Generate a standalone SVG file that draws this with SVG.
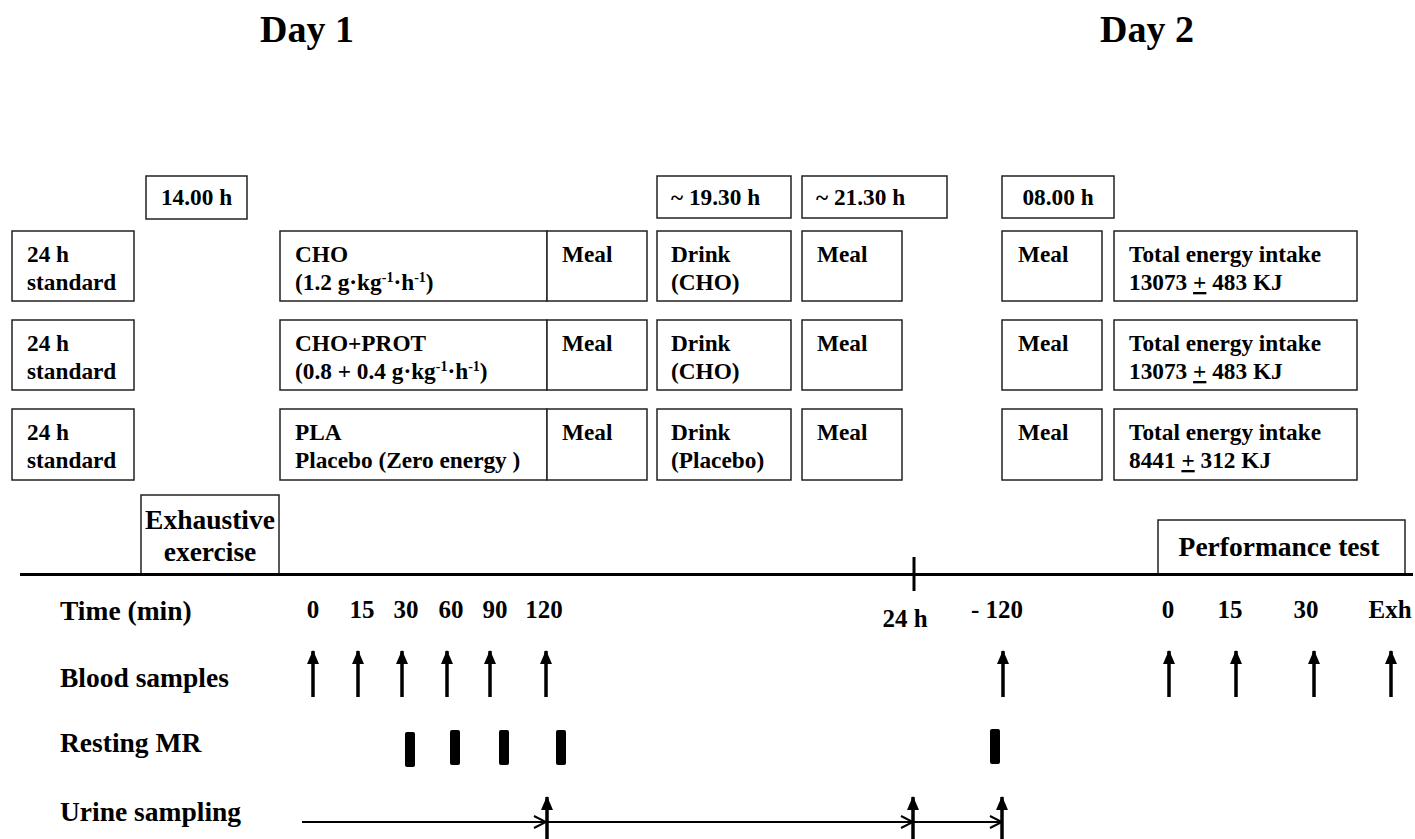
<svg xmlns="http://www.w3.org/2000/svg" width="1415" height="839" viewBox="0 0 1415 839" font-family="'Liberation Serif', 'Times New Roman', serif" font-weight="bold">
<defs>
<style>
text{font-family:"Liberation Serif","Times New Roman",serif;font-weight:bold;fill:#000}
.bx{fill:#fff;stroke:#222;stroke-width:1.5}
.t{font-size:23.3px}
.day{font-size:38px}
.lab{font-size:27.5px}
.num{font-size:25px}
.big{font-size:27.5px}
.ar{stroke:#000;stroke-width:3.5;fill:none}
.hl{stroke:#000;stroke-width:2;fill:none}
</style>
<marker id="tri" viewBox="0 0 14 12" refX="13" refY="6" markerWidth="14" markerHeight="12" markerUnits="userSpaceOnUse" orient="auto">
<path d="M0,0 L14,6 L0,12 Z" fill="#000"/>
</marker>
<marker id="open" viewBox="0 0 14 14" refX="13" refY="7" markerWidth="14" markerHeight="14" markerUnits="userSpaceOnUse" orient="auto">
<path d="M1,1 L13,7 L1,13" fill="none" stroke="#000" stroke-width="2"/>
</marker>
</defs>
<rect width="1415" height="839" fill="#fff"/>

<text class="day" x="307" y="42" text-anchor="middle">Day 1</text>
<text class="day" x="1147" y="42" text-anchor="middle">Day 2</text>

<g id="time-boxes">
<g id="t1400"><rect class="bx" x="146" y="176" width="101" height="43"/><text class="t" x="196.5" y="205" text-anchor="middle">14.00 h</text></g>
<g id="t1930"><rect class="bx" x="657" y="176" width="134" height="42"/><text class="t" x="671" y="205">~ 19.30 h</text></g>
<g id="t2130"><rect class="bx" x="802" y="176" width="145" height="42"/><text class="t" x="816" y="205">~ 21.30 h</text></g>
<g id="t0800"><rect class="bx" x="1002" y="176" width="112" height="42"/><text class="t" x="1058" y="205" text-anchor="middle">08.00 h</text></g>
</g>

<g id="row1">
<g id="r1-std"><rect class="bx" x="12" y="231" width="122" height="70"/><text class="t" x="27" y="262">24 h</text><text class="t" x="27" y="290">standard</text></g>
<g id="r1-cho"><rect class="bx" x="280" y="231" width="267" height="70"/><text class="t" x="295" y="262">CHO</text><text class="t" x="295" y="290">(1.2 g·kg<tspan font-size="14" dy="-8">-1</tspan><tspan dy="8">·h</tspan><tspan font-size="14" dy="-8">-1</tspan><tspan dy="8">)</tspan></text></g>
<g id="r1-meal1"><rect class="bx" x="547" y="231" width="100" height="70"/><text class="t" x="562" y="262">Meal</text></g>
<g id="r1-drink"><rect class="bx" x="657" y="231" width="134" height="70"/><text class="t" x="671" y="262">Drink</text><text class="t" x="671" y="290">(CHO)</text></g>
<g id="r1-meal2"><rect class="bx" x="802" y="231" width="100" height="70"/><text class="t" x="817" y="262">Meal</text></g>
<g id="r1-meal3"><rect class="bx" x="1002" y="231" width="100" height="70"/><text class="t" x="1018" y="262">Meal</text></g>
<g id="r1-total"><rect class="bx" x="1114" y="231" width="243" height="70"/><text class="t" x="1129" y="262">Total energy intake</text><text class="t" x="1129" y="290">13073 <tspan text-decoration="underline">+</tspan> 483 KJ</text></g>
</g>

<g id="row2">
<g id="r2-std"><rect class="bx" x="12" y="320" width="122" height="70"/><text class="t" x="27" y="351">24 h</text><text class="t" x="27" y="379">standard</text></g>
<g id="r2-cho"><rect class="bx" x="280" y="320" width="267" height="70"/><text class="t" x="295" y="351">CHO+PROT</text><text class="t" x="295" y="379">(0.8 + 0.4 g·kg<tspan font-size="14" dy="-8">-1</tspan><tspan dy="8">·h</tspan><tspan font-size="14" dy="-8">-1</tspan><tspan dy="8">)</tspan></text></g>
<g id="r2-meal1"><rect class="bx" x="547" y="320" width="100" height="70"/><text class="t" x="562" y="351">Meal</text></g>
<g id="r2-drink"><rect class="bx" x="657" y="320" width="134" height="70"/><text class="t" x="671" y="351">Drink</text><text class="t" x="671" y="379">(CHO)</text></g>
<g id="r2-meal2"><rect class="bx" x="802" y="320" width="100" height="70"/><text class="t" x="817" y="351">Meal</text></g>
<g id="r2-meal3"><rect class="bx" x="1002" y="320" width="100" height="70"/><text class="t" x="1018" y="351">Meal</text></g>
<g id="r2-total"><rect class="bx" x="1114" y="320" width="243" height="70"/><text class="t" x="1129" y="351">Total energy intake</text><text class="t" x="1129" y="379">13073 <tspan text-decoration="underline">+</tspan> 483 KJ</text></g>
</g>

<g id="row3">
<g id="r3-std"><rect class="bx" x="12" y="409" width="122" height="71"/><text class="t" x="27" y="440">24 h</text><text class="t" x="27" y="468">standard</text></g>
<g id="r3-pla"><rect class="bx" x="280" y="409" width="267" height="71"/><text class="t" x="295" y="440">PLA</text><text class="t" x="295" y="468">Placebo (Zero energy )</text></g>
<g id="r3-meal1"><rect class="bx" x="547" y="409" width="100" height="71"/><text class="t" x="562" y="440">Meal</text></g>
<g id="r3-drink"><rect class="bx" x="657" y="409" width="134" height="71"/><text class="t" x="671" y="440">Drink</text><text class="t" x="671" y="468">(Placebo)</text></g>
<g id="r3-meal2"><rect class="bx" x="802" y="409" width="100" height="71"/><text class="t" x="817" y="440">Meal</text></g>
<g id="r3-meal3"><rect class="bx" x="1002" y="409" width="100" height="71"/><text class="t" x="1018" y="440">Meal</text></g>
<g id="r3-total"><rect class="bx" x="1114" y="409" width="243" height="71"/><text class="t" x="1129" y="440">Total energy intake</text><text class="t" x="1129" y="468">8441 <tspan text-decoration="underline">+</tspan> 312 KJ</text></g>
</g>

<g id="exercise"><rect class="bx" x="141" y="495" width="138" height="79"/><text class="big" x="210" y="529" text-anchor="middle">Exhaustive</text><text class="big" x="210" y="561" text-anchor="middle">exercise</text></g>
<g id="performance"><rect class="bx" x="1158" y="520" width="247" height="54"/><text class="big" x="1279" y="556" text-anchor="middle">Performance test</text></g>

<g id="connectors">
<line x1="20" y1="574.5" x2="1413" y2="574.5" stroke="#000" stroke-width="3"/>
<line x1="914" y1="557" x2="914" y2="591" stroke="#000" stroke-width="3"/>

<g id="blood">
<line class="ar" x1="313" y1="697" x2="313" y2="651" marker-end="url(#tri)"/>
<line class="ar" x1="358" y1="697" x2="358" y2="651" marker-end="url(#tri)"/>
<line class="ar" x1="402" y1="697" x2="402" y2="651" marker-end="url(#tri)"/>
<line class="ar" x1="447" y1="697" x2="447" y2="651" marker-end="url(#tri)"/>
<line class="ar" x1="490" y1="697" x2="490" y2="651" marker-end="url(#tri)"/>
<line class="ar" x1="546" y1="697" x2="546" y2="651" marker-end="url(#tri)"/>
<line class="ar" x1="1003" y1="697" x2="1003" y2="651" marker-end="url(#tri)"/>
<line class="ar" x1="1169" y1="697" x2="1169" y2="651" marker-end="url(#tri)"/>
<line class="ar" x1="1236" y1="697" x2="1236" y2="651" marker-end="url(#tri)"/>
<line class="ar" x1="1314" y1="697" x2="1314" y2="651" marker-end="url(#tri)"/>
<line class="ar" x1="1391" y1="697" x2="1391" y2="651" marker-end="url(#tri)"/>
</g>

<g id="urine">
<line class="hl" x1="302" y1="822" x2="546" y2="822" marker-end="url(#open)"/>
<line class="hl" x1="546" y1="822" x2="913" y2="822" marker-end="url(#open)"/>
<line class="hl" x1="913" y1="822" x2="1002" y2="822" marker-end="url(#open)"/>
<line class="ar" x1="547" y1="839" x2="547" y2="797" marker-end="url(#tri)"/>
<line class="ar" x1="913" y1="839" x2="913" y2="797" marker-end="url(#tri)"/>
<line class="ar" x1="1002" y1="839" x2="1002" y2="797" marker-end="url(#tri)"/>
</g>
</g>

<g id="mr">
<rect x="405" y="732" width="10" height="35" rx="2" fill="#000"/>
<rect x="450" y="730" width="10" height="35" rx="2" fill="#000"/>
<rect x="499" y="730" width="10" height="35" rx="2" fill="#000"/>
<rect x="556" y="730" width="10" height="35" rx="2" fill="#000"/>
<rect x="990" y="729" width="10" height="35" rx="2" fill="#000"/>
</g>

<g id="labels">
<text class="lab" x="60" y="620">Time (min)</text>
<text class="lab" x="60" y="687">Blood samples</text>
<text class="lab" x="60" y="752">Resting MR</text>
<text class="lab" x="60" y="821">Urine sampling</text>
<text class="num" x="313" y="618" text-anchor="middle">0</text>
<text class="num" x="362" y="618" text-anchor="middle">15</text>
<text class="num" x="406" y="618" text-anchor="middle">30</text>
<text class="num" x="451" y="618" text-anchor="middle">60</text>
<text class="num" x="495" y="618" text-anchor="middle">90</text>
<text class="num" x="544" y="618" text-anchor="middle">120</text>
<text class="num" x="905" y="627" text-anchor="middle">24 h</text>
<text class="num" x="997" y="618" text-anchor="middle">- 120</text>
<text class="num" x="1168" y="618" text-anchor="middle">0</text>
<text class="num" x="1230" y="618" text-anchor="middle">15</text>
<text class="num" x="1306" y="618" text-anchor="middle">30</text>
<text class="num" x="1390" y="618" text-anchor="middle">Exh</text>
</g>
</svg>
